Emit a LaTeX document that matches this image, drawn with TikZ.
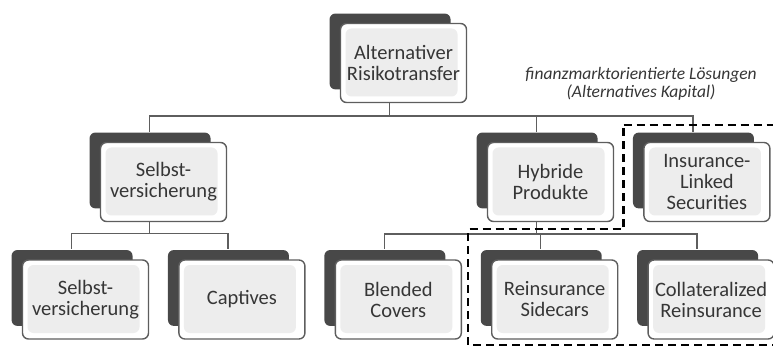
\documentclass[tikz,border=0pt]{standalone}
\usepackage{fontspec}
\setmainfont{Carlito}
\usetikzlibrary{positioning,shadows}
\definecolor{backgray}{HTML}{484848}
\definecolor{linegray}{HTML}{5E5E5E}
\definecolor{innergray}{HTML}{EDEDED}
\definecolor{textgray}{HTML}{363636}

\begin{document}
\begin{tikzpicture}[x=1pt, y=-1pt, node distance=29pt,
  box/.style={draw=linegray, line width=1.4pt, rounded corners=6pt, fill=white,
    minimum width=126pt, minimum height=79pt, align=center, text=textgray,
    inner xsep=1pt, font=\fontsize{20.5}{21}\selectfont,
    general shadow={fill=backgray, shadow xshift=-14pt, shadow yshift=12pt, shadow scale=0.96},
    path picture={\fill[innergray] ([shift={(5pt,-5pt)}]path picture bounding box.north west)
      rectangle ([shift={(-9pt,6pt)}]path picture bounding box.south east);}},
  link/.style={draw=linegray, line width=1.5pt},
  market/.style={dash pattern=on 8pt off 5pt, line width=2.4pt}]
  \useasboundingbox (0,0) rectangle (773,347);

  \node [box] (top) at (403.5,63) {Alternativer\\Risikotransfer};
  \node [box] (selbst) at (163.5,182) {Selbst-\\versicherung};
  \node [box] (hybrid) at (550.5,182) {Hybride\\Produkte};
  \node [box] (ils) [right=of hybrid] {Insurance-\\Linked\\Securities};
  \node [box] (selbst2) at (85.5,299.5) {Selbst-\\versicherung};
  \node [box] (captives) [right=of selbst2] {Captives};
  \node [box] (blended) [right=of captives] {Blended\\Covers};
  \node [box] (sidecars) [right=of blended] {Reinsurance\\Sidecars};
  \node [box] (collat) [right=of sidecars] {Collateralized\\Reinsurance};

  % Verbindungen
  \draw [link] ([xshift=-14pt]top.south) -- ++(0,-13pt) -| ([xshift=-14pt,yshift=10pt]selbst.north);
  \draw [link] ([xshift=-14pt]top.south) -- ++(0,-13pt) -| ([xshift=-14pt,yshift=10pt]hybrid.north);
  \draw [link] ([xshift=-14pt]top.south) -- ++(0,-13pt) -| ([xshift=-14pt,yshift=10pt]ils.north);
  \draw [link] ([xshift=-14pt]selbst.south) -- ++(0,-11.5pt) -| ([xshift=-14pt,yshift=10pt]selbst2.north);
  \draw [link] ([xshift=-14pt]selbst.south) -- ++(0,-11.5pt) -| ([xshift=-14pt,yshift=10pt]captives.north);
  \draw [link] ([xshift=-14pt]hybrid.south) -- ++(0,-12pt) -| ([xshift=-14pt,yshift=10pt]blended.north);
  \draw [link] ([xshift=-14pt]hybrid.south) -- ++(0,-12pt) -| ([xshift=-14pt,yshift=10pt]sidecars.north);
  \draw [link] ([xshift=-14pt]hybrid.south) -- ++(0,-12pt) -| ([xshift=-14pt,yshift=10pt]collat.north);

  % alternatives Kapital
  \draw [market] (623.5,125) -- (780,125) -- (780,345) -- (468,345) -- (468,229) -- (623.5,229) -- cycle;
  \node (kapital) [text=textgray, align=center, font=\itshape\fontsize{17.5}{18.5}\selectfont] at (641,84)
    {finanzmarktorientierte Lösungen\\(Alternatives Kapital)};
\end{tikzpicture}
\end{document}
